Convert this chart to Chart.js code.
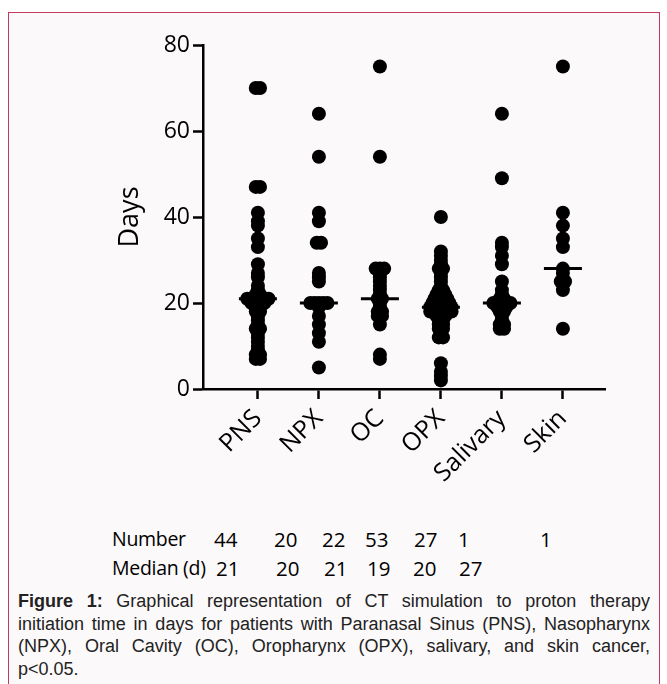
<!DOCTYPE html>
<html>
<head>
<meta charset="utf-8">
<script src="https://cdn.jsdelivr.net/npm/chart.js@4.4.1/dist/chart.umd.min.js"></script>
<style>
  body { margin: 0; background: #fff; }
  #page { position: relative; width: 667px; height: 684px; overflow: hidden; background: #fff; }
  #frame { position: absolute; left: 8px; top: 12px; width: 652px; height: 700px; box-sizing: border-box;
           border: 1.5px solid #c43a5c; border-bottom: none; background: #fcf9fa; }
  #chartBox { position: absolute; left: 0; top: 0; width: 667px; height: 500px; }
  .row { position: absolute; left: 0; width: 667px; height: 30px; line-height: 30px;
         font-family: 'Open Sans'; font-size: 20.5px; color: #000; white-space: nowrap; }
  .row span { position: absolute; top: 0; }
  .row span.lab { font-size: 19.5px; letter-spacing: -0.3px; }
  #caption { position: absolute; left: 18px; width: 632px; top: 590px; color: #222;
             font-family: 'Liberation Sans', Arial, sans-serif; font-size: 18px; line-height: 22.7px; }
  #caption .j { text-align: justify; text-align-last: justify; }
</style>
</head>
<body>
<div id="page">
  <div id="frame"></div>
  <div id="chartBox"><canvas id="daysChart"></canvas></div>

  <div class="row" style="top:524px">
    <span class="lab" style="left:112px">Number</span>
    <span style="left:214px">44</span>
    <span style="left:274px">20</span>
    <span style="left:322px">22</span>
    <span style="left:365px">53</span>
    <span style="left:414px">27</span>
    <span style="left:458px">1</span>
    <span style="left:540px">1</span>
  </div>
  <div class="row" style="top:553px">
    <span class="lab" style="left:112px">Median (d)</span>
    <span style="left:216px">21</span>
    <span style="left:276px">20</span>
    <span style="left:324px">21</span>
    <span style="left:367px">19</span>
    <span style="left:413px">20</span>
    <span style="left:459px">27</span>
  </div>

  <div id="caption">
    <div class="j"><b>Figure 1:</b> Graphical representation of CT simulation to proton therapy</div>
    <div class="j">initiation time in days for patients with Paranasal Sinus (PNS), Nasopharynx</div>
    <div class="j">(NPX), Oral Cavity (OC), Oropharynx (OPX), salivary, and skin cancer,</div>
    <div>p&lt;0.05.</div>
  </div>
</div>

<script>
// categories and days per patient
const categories = ['PNS', 'NPX', 'OC', 'OPX', 'Salivary', 'Skin'];

const pnsDays = [70, 70, 47, 47, 41, 39, 38, 35, 33, 29, 27, 26, 24, 23, 22, 22, 21, 21, 21, 21, 21, 21,
                 20, 20, 20, 20, 19, 19, 18, 18, 17, 16, 15, 14, 14, 13, 12, 11, 10, 9, 8, 8, 7, 7];
const npxDays = [64, 54, 41, 39, 34, 34, 27, 26, 25, 20, 20, 20, 20, 20, 19, 17, 15, 13, 11, 5];
const ocDays = [75, 54, 28, 28, 28, 27, 26, 25, 24, 23, 22, 21, 21, 20, 19, 18, 18, 17, 17, 15, 8, 7];
const opxDays = [40, 32, 31, 30, 29, 28, 28, 27, 26, 25, 24, 23, 23, 22, 22, 22, 21, 21, 21, 21,
                 20, 20, 20, 20, 20, 19, 19, 19, 19, 19, 19, 18, 18, 18, 18, 18, 18, 17, 17, 17,
                 16, 16, 15, 15, 14, 14, 13, 12, 12, 6, 4, 3, 2];
const salivaryDays = [64, 49, 34, 33, 31, 29, 25, 23, 22, 21, 21, 20, 20, 20, 20, 20, 19, 19, 19,
                      18, 18, 17, 16, 15, 15, 14, 14];
const skinDays = [75, 41, 38, 35, 33, 28, 27, 25, 25, 23, 14];

const medianDays = [21, 20, 21, 19, 20, 28];

const yTicks = [0, 20, 40, 60, 80];

// spread equal values sideways like a dot plot
const groups = [pnsDays, npxDays, ocDays, opxDays, salivaryDays, skinDays];
const swarmStep = 0.07;
const dots = [];
groups.forEach((vals, gi) => {
    const counts = {};
    vals.forEach(v => { counts[v] = (counts[v] || 0) + 1; });
    const seen = {};
    vals.forEach(v => {
        seen[v] = seen[v] === undefined ? 0 : seen[v] + 1;
        const k = counts[v];
        dots.push({ x: gi + 1 + (seen[v] - (k - 1) / 2) * swarmStep, y: v });
    });
});
const medians = medianDays.map((m, i) => ({ x: i + 1, y: m }));

Chart.defaults.font.family = "'Open Sans'";
Chart.defaults.color = '#000';

const ctx = document.getElementById('daysChart').getContext('2d');
new Chart(ctx, {
    type: 'scatter',
    data: {
        datasets: [
            {
                data: dots,
                backgroundColor: '#000',
                borderWidth: 0,
                pointRadius: 7,
                pointHoverRadius: 7
            },
            {
                data: medians,
                pointStyle: 'line',
                borderColor: '#000',
                borderWidth: 3,
                pointRadius: 19,
                pointHoverRadius: 19
            }
        ]
    },
    options: {
        responsive: true,
        maintainAspectRatio: false,
        animation: false,
        layout: { padding: { left: 0, top: 45, right: 62, bottom: 0 } },
        plugins: {
            legend: { display: false },
            tooltip: { enabled: false }
        },
        scales: {
            x: {
                type: 'linear',
                min: 0.1,
                max: 6.69,
                afterBuildTicks: s => { s.ticks = categories.map((c, i) => ({ value: i + 1 })); },
                afterFit: s => { s.height = 111; },
                ticks: {
                    autoSkip: false,
                    minRotation: 45,
                    maxRotation: 45,
                    padding: 5,
                    font: { size: 25 },
                    callback: v => categories[v - 1] || ''
                },
                grid: { drawOnChartArea: false, tickLength: 10, tickWidth: 2.5, tickColor: '#000' },
                border: { color: '#000', width: 2.5 }
            },
            y: {
                min: 0,
                max: 80,
                afterBuildTicks: s => { s.ticks = yTicks.map(v => ({ value: v })); },
                afterFit: s => { s.width = 203; },
                ticks: { padding: 3, font: { size: 23 } },
                title: {
                    display: true,
                    text: 'Days',
                    font: { size: 27 },
                    padding: { top: 114, bottom: 0 }
                },
                grid: { drawOnChartArea: false, tickLength: 10, tickWidth: 2.5, tickColor: '#000' },
                border: { color: '#000', width: 2.5 }
            }
        }
    }
});
</script>
</body>
</html>
